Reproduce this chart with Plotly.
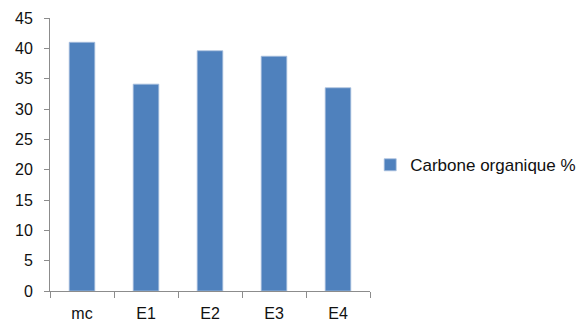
import plotly.graph_objects as go

# Organic carbon content per sample
categories = ["mc", "E1", "E2", "E3", "E4"]
carbone_organique = [41.0, 34.1, 39.6, 38.7, 33.5]
series_name = "Carbone organique %"
y_ticks = [0, 5, 10, 15, 20, 25, 30, 35, 40, 45]

bar_color = "#4F81BD"
axis_color = "#8C8C8C"
font_family = "Liberation Sans, Arial, sans-serif"

fig = go.Figure()
fig.add_trace(go.Bar(
    x=categories,
    y=carbone_organique,
    name=series_name,
    marker=dict(color=bar_color, line=dict(color="#A9C0DE", width=0.8)),
    showlegend=True,
))

fig.update_layout(
    width=583,
    height=324,
    margin=dict(l=50, r=213, t=18, b=33),
    paper_bgcolor="white",
    plot_bgcolor="white",
    bargap=0.6,
    font=dict(family=font_family, size=14, color="#111111"),
    showlegend=True,
    legend=dict(
        xref="container", yref="container",
        x=0.635, y=0.49, xanchor="left", yanchor="middle",
        font=dict(size=17, color="#111111"),
        itemwidth=30,
        bgcolor="rgba(0,0,0,0)",
    ),
)

fig.update_xaxes(
    type="category",
    automargin=False,
    showline=True, linecolor=axis_color, linewidth=1,
    ticks="outside", tickson="boundaries", ticklen=6, tickcolor=axis_color,
    ticklabelstandoff=8,
    showgrid=False, zeroline=False,
    tickfont=dict(size=16),
)
fig.update_yaxes(
    range=[0, 45],
    tickvals=y_ticks,
    automargin=False,
    showline=True, linecolor=axis_color, linewidth=1,
    ticks="outside", ticklen=5, tickcolor=axis_color,
    ticklabelstandoff=8,
    showgrid=False, zeroline=False,
    tickfont=dict(size=16),
)

fig.write_html("out.html")
